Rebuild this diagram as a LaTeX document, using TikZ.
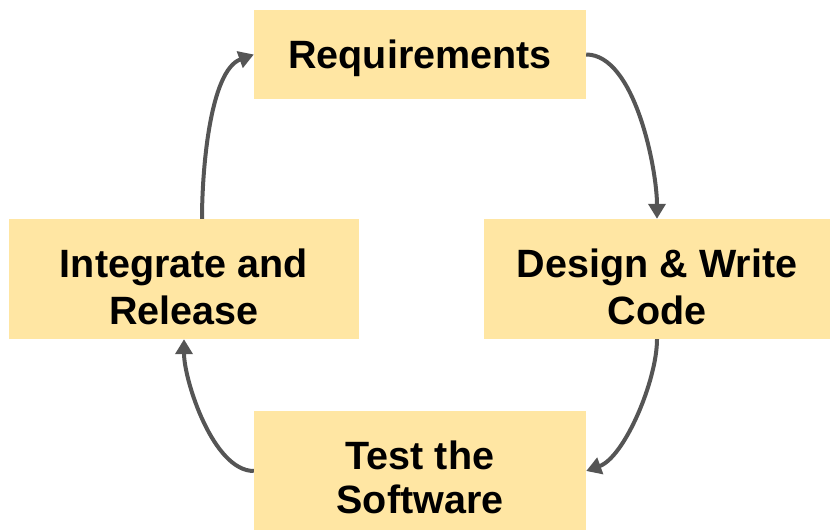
\documentclass[tikz,border=0pt]{standalone}
\usepackage{fontspec}
\setmainfont{Liberation Sans}
\usetikzlibrary{arrows.meta}
\definecolor{stagefill}{HTML}{FFE6A3}
\definecolor{flowgray}{HTML}{555555}

\begin{document}
\begin{tikzpicture}[x=1pt, y=1pt,
	stage/.style={fill=stagefill, inner sep=0pt, align=center,
		font=\bfseries\fontsize{39.5}{47}\selectfont},
	flow/.style={flowgray, line width=4pt, looseness=0.7,
		-{Triangle[length=15pt, width=17pt]}}]
	\useasboundingbox (0,0) rectangle (830,530);

	\node [stage, minimum width=332pt, minimum height=89pt, text depth=0pt] (req) at (420,475.5) {Requirements};
	\node [stage, minimum width=346pt, minimum height=120pt, text height=92pt, text depth=0pt] (design) at (657,251) {Design \& Write\\Code};
	\node [stage, minimum width=332pt, minimum height=120pt, text height=86pt, text depth=0pt,
		font=\bfseries\fontsize{39.5}{44}\selectfont] (test) at (420,59) {Test the\\Software};
	\node [stage, minimum width=350pt, minimum height=120pt, text height=92pt, text depth=0pt] (integ) at (184,251) {Integrate and\\Release};

	\draw [flow] (req.east) to [out=0, in=90] (design.north);
	\draw [flow] (design.south) to [out=-90, in=20] (test.east);
	\draw [flow] (test.west) to [out=180, in=-90] (integ.south);
	\draw [flow] ([xshift=18pt]integ.north) to [out=90, in=200] (req.west);

\end{tikzpicture}
\end{document}
